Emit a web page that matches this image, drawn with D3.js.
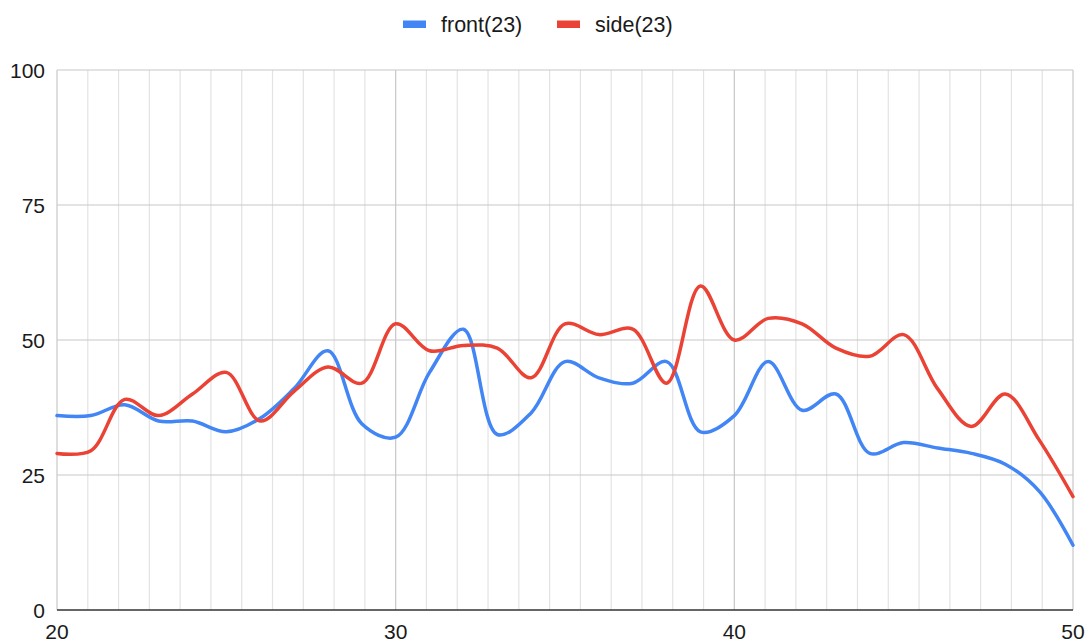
<!DOCTYPE html>
<html><head><meta charset="utf-8">
<script src="https://cdn.jsdelivr.net/npm/d3@7"></script>
<style>body{margin:0;background:#fff;} svg{display:block;} text{font-family:"Liberation Sans",Arial,sans-serif;}</style>
</head><body><svg id="c" width="1091" height="644"></svg>
<script>
const xs = d3.range(20, 51);
const front = [36,36,38,35,35,33,35.5,41,48,34.5,32,44,52,32.5,36.5,46,43,42,46,33,36,46,37,40,29,31,30,29,27,22,12];
const side  = [29,29.5,39,36,40,44,35,40.5,45,42,53,48,49,48.5,43,53,51,52,42,60,50,54,53,48.5,47,51,41,34,40,31.5,21];
const yTicks = [0,25,50,75,100];
const xTicks = [20,30,40,50];
const seriesNames = ["front(23)","side(23)"];
const colors = ["#4285F4","#EA4335"];

const svg = d3.select("#c");
const L=57, R=1073, T=70, B=610;
const x = d3.scaleLinear().domain([20,50]).range([L,R]);
const y = d3.scaleLinear().domain([0,100]).range([B,T]);

// minor vertical gridlines (10 between majors)
const minor = [];
for (let i=0;i<3;i++) for (let k=1;k<=10;k++) minor.push(20+i*10+k*10/11);
svg.append("g").selectAll("line").data(minor).join("line")
  .attr("x1",d=>x(d)).attr("x2",d=>x(d)).attr("y1",T).attr("y2",B)
  .attr("stroke","#e3e3e3").attr("stroke-width",1.2);
svg.append("g").selectAll("line").data(xTicks).join("line")
  .attr("x1",d=>x(d)).attr("x2",d=>x(d)).attr("y1",T).attr("y2",B)
  .attr("stroke","#c8c8c8").attr("stroke-width",1.2);
svg.append("g").selectAll("line").data(yTicks.slice(1)).join("line")
  .attr("x1",L).attr("x2",R).attr("y1",d=>y(d)).attr("y2",d=>y(d))
  .attr("stroke","#c8c8c8").attr("stroke-width",1.2);

// axis line
svg.append("line").attr("x1",L).attr("x2",R).attr("y1",B).attr("y2",B).attr("stroke","#333").attr("stroke-width",1.5);

// y labels
svg.append("g").selectAll("text").data(yTicks).join("text")
  .attr("x",45).attr("y",d=>y(d)).attr("dy","0.36em").attr("text-anchor","end")
  .attr("font-size",21).attr("fill","#1a1a1a").text(d=>d);
// x labels
svg.append("g").selectAll("text").data(xTicks).join("text")
  .attr("x",d=>x(d)).attr("y",639).attr("text-anchor","middle")
  .attr("font-size",21).attr("fill","#1a1a1a").text(d=>d);

const line = d3.line().x((d,i)=>x(xs[i])).y(d=>y(d)).curve(d3.curveCatmullRom.alpha(0.5));
[front, side].forEach((s,i)=>{
  svg.append("path").datum(s).attr("d",line).attr("fill","none")
    .attr("stroke",colors[i]).attr("stroke-width",3.5).attr("stroke-linejoin","round").attr("stroke-linecap","round");
});

// legend
const legX = [403, 557];
seriesNames.forEach((n,i)=>{
  svg.append("rect").attr("x",legX[i]).attr("y",20.5).attr("width",23).attr("height",7.5).attr("fill",colors[i]);
  svg.append("text").attr("x",legX[i]+38).attr("y",31.5).attr("font-size",21.5).attr("fill","#1a1a1a").text(n);
});
</script></body></html>
